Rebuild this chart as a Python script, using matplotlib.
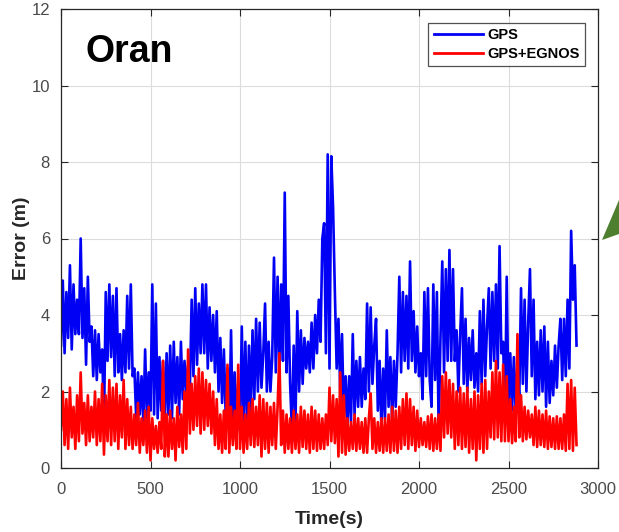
import numpy as np
import matplotlib
matplotlib.use("Agg")
import matplotlib.pyplot as plt
from matplotlib.patches import Polygon

plt.rcParams['font.family'] = ['Liberation Sans', 'DejaVu Sans']

# Time axis (s), one sample every 10 s
time_s = np.arange(0, 2890, 10)

# GPS error (m)
gps = [
    3.2, 4.9, 3.0, 4.6, 3.4, 5.3, 3.1, 4.8, 3.5, 4.4,
    3.5, 6.0, 3.4, 4.7, 2.7, 5.0, 3.3, 3.7, 2.4, 3.6,
    2.3, 3.5, 2.5, 3.1, 1.1, 4.6, 2.8, 4.8, 2.9, 4.5,
    2.4, 4.7, 2.5, 3.5, 2.3, 3.6, 2.5, 4.5, 2.6, 4.8,
    2.4, 2.6, 1.3, 2.5, 1.4, 2.4, 1.2, 3.1, 1.3, 2.5,
    1.5, 4.8, 1.4, 4.3, 1.3, 2.9, 1.5, 2.8, 1.2, 3.0,
    1.4, 3.2, 1.3, 3.3, 1.7, 2.9, 1.4, 3.3, 1.8, 2.8,
    2.0, 2.7, 2.1, 4.4, 2.4, 4.7, 2.7, 4.3, 3.0, 4.8,
    3.0, 4.8, 2.6, 4.2, 2.8, 4.0, 2.5, 4.1, 2.0, 3.4,
    1.7, 3.1, 1.4, 2.6, 1.0, 3.6, 0.9, 2.5, 1.1, 2.2,
    1.0, 3.7, 1.2, 3.3, 1.0, 3.2, 1.5, 3.6, 1.8, 3.9,
    2.0, 3.8, 2.1, 3.0, 4.3, 2.0, 3.3, 2.0, 2.9, 5.5,
    2.5, 5.0, 2.6, 4.8, 2.8, 7.2, 2.5, 4.5, 2.2, 1.0,
    3.2, 1.2, 4.1, 2.0, 3.6, 2.2, 3.4, 2.6, 3.3, 2.5,
    3.8, 2.6, 4.0, 3.0, 4.4, 3.3, 6.0, 6.4, 3.0, 8.2,
    2.6, 8.15, 6.8, 4.6, 2.6, 3.9, 2.0, 3.5, 1.3, 2.4,
    1.1, 2.4, 1.2, 3.5, 1.4, 2.8, 1.6, 2.9, 1.6, 2.6,
    1.8, 4.3, 2.0, 4.2, 2.2, 3.2, 3.9, 1.5, 2.8, 1.0,
    2.6, 1.3, 3.6, 1.6, 2.9, 1.2, 2.8, 1.6, 3.0, 5.0,
    2.5, 4.6, 2.8, 4.5, 2.6, 5.4, 2.8, 4.1, 2.5, 3.7,
    2.4, 3.0, 1.8, 4.6, 2.4, 4.7, 2.3, 1.6, 4.8, 2.3,
    4.6, 0.9, 3.4, 5.4, 2.5, 5.2, 2.8, 5.7, 2.8, 5.2,
    2.8, 3.6, 2.0, 3.5, 4.7, 2.2, 3.9, 2.0, 3.4, 2.3,
    3.6, 2.1, 3.0, 2.0, 4.1, 2.2, 4.4, 2.4, 3.7, 4.7,
    2.6, 4.6, 2.8, 4.8, 2.6, 5.8, 3.0, 3.3, 1.2, 5.0,
    1.6, 3.0, 1.5, 2.9, 1.5, 2.7, 1.8, 4.7, 2.2, 4.4,
    2.0, 3.8, 5.2, 2.4, 4.4, 1.8, 3.3, 1.9, 3.6, 2.0,
    3.7, 1.6, 3.3, 1.7, 2.8, 1.9, 3.2, 2.1, 3.2, 3.9,
    2.3, 3.9, 2.4, 4.4, 2.6, 6.2, 4.4, 5.3, 3.2,
]

# GPS+EGNOS error (m)
gps_egnos = [
    1.0, 2.0, 0.6, 1.8, 0.5, 2.1, 0.8, 1.6, 0.5, 1.9,
    0.7, 2.5, 0.9, 1.7, 0.6, 1.9, 0.7, 1.6, 0.8, 2.0,
    0.6, 1.8, 0.7, 2.2, 0.35, 1.9, 0.7, 2.3, 0.6, 2.1,
    0.7, 2.2, 0.5, 1.9, 0.8, 2.3, 0.5, 1.8, 0.6, 1.6,
    0.5, 1.4, 0.6, 1.7, 0.4, 1.3, 0.6, 1.5, 0.4, 1.6,
    0.2, 1.3, 0.5, 1.1, 0.4, 1.2, 0.5, 2.8, 0.3, 1.4,
    0.3, 1.5, 0.5, 1.3, 0.2, 1.6, 0.55, 1.4, 0.4, 2.0,
    0.5, 3.1, 0.9, 2.2, 1.0, 2.4, 1.1, 2.6, 0.9, 2.5,
    1.0, 2.3, 1.1, 2.2, 0.9, 2.0, 0.6, 1.8, 0.5, 1.4,
    0.4, 1.5, 0.5, 2.7, 0.4, 1.6, 0.6, 1.5, 0.5, 2.7,
    0.5, 1.6, 0.4, 1.4, 0.5, 1.7, 0.6, 1.8, 0.55, 1.6,
    0.6, 1.9, 0.3, 1.8, 0.5, 1.7, 0.4, 1.6, 0.6, 1.7,
    0.5, 1.6, 3.0, 0.6, 1.5, 0.4, 1.4, 0.5, 1.3, 0.4,
    1.5, 0.5, 1.4, 0.4, 1.6, 0.55, 1.5, 0.5, 1.4, 0.4,
    1.6, 0.5, 1.5, 0.45, 1.4, 0.5, 1.3, 0.5, 1.4, 0.6,
    2.1, 0.7, 1.9, 0.65, 1.8, 0.3, 2.5, 0.4, 1.9, 0.35,
    1.3, 0.45, 1.2, 0.5, 1.4, 0.45, 1.3, 0.5, 1.2, 0.4,
    1.3, 0.4, 1.3, 1.95, 0.5, 1.3, 0.4, 1.2, 0.45, 1.3,
    0.4, 1.3, 0.45, 1.4, 0.4, 1.6, 0.45, 1.5, 0.4, 1.6,
    0.5, 1.8, 0.6, 1.95, 0.5, 1.8, 0.6, 1.6, 0.45, 1.5,
    0.55, 1.3, 0.6, 1.2, 0.55, 1.35, 0.5, 1.4, 0.45, 1.3,
    0.5, 1.4, 0.45, 2.4, 0.8, 2.5, 0.9, 2.3, 0.8, 2.2,
    0.5, 2.0, 0.6, 2.1, 0.5, 1.95, 0.55, 2.1, 0.4, 1.8,
    0.5, 2.0, 0.2, 1.9, 0.5, 2.2, 0.4, 2.3, 0.5, 2.0,
    0.8, 2.5, 0.75, 2.8, 0.8, 2.5, 0.7, 2.7, 0.7, 2.4,
    0.7, 1.8, 0.65, 1.6, 0.7, 3.5, 0.8, 1.9, 0.7, 1.6,
    0.75, 1.5, 0.8, 1.4, 0.6, 1.6, 0.55, 1.5, 0.6, 1.4,
    0.55, 1.5, 0.5, 1.35, 0.55, 1.3, 0.5, 1.35, 0.5, 1.3,
    0.5, 1.4, 0.45, 2.2, 0.5, 2.3, 0.45, 2.1, 0.6,
]

series_labels = ['GPS', 'GPS+EGNOS']
x_ticks = [0, 500, 1000, 1500, 2000, 2500, 3000]
y_ticks = [0, 2, 4, 6, 8, 10, 12]
city = 'Oran'

W, H = 619, 532
fig = plt.figure(figsize=(W / 100, H / 100), dpi=100)
fig.patch.set_facecolor('white')
ax = fig.add_axes([61 / W, 1 - 468 / H, (598 - 61) / W, (468 - 9) / H])

ax.plot(time_s, gps, color='#0000f5', lw=1.9, label=series_labels[0])
ax.plot(time_s, gps_egnos, color='#ff0000', lw=1.9, label=series_labels[1])

ax.set_xlim(0, 3000)
ax.set_ylim(0, 12)
ax.set_xticks(x_ticks)
ax.set_yticks(y_ticks)
ax.grid(True, color='#dcdcdc', lw=0.8)
ax.set_axisbelow(True)
ax.tick_params(direction='in', top=True, right=True, length=5, width=0.8,
               labelsize=12, labelcolor='#4a4a4a', color='#262626')
ax.tick_params(axis='x', pad=10)
ax.tick_params(axis='y', pad=8)
for s in ax.spines.values():
    s.set_color('#262626')
    s.set_linewidth(0.9)

ax.set_xlabel('Time(s)', fontsize=14, fontweight='bold', color='#262626', labelpad=10)
ax.set_ylabel('Error (m)', fontsize=14, fontweight='bold', color='#262626', labelpad=1)

ax.text(0.045, 0.885, city, transform=ax.transAxes, fontsize=27,
        fontweight='bold', color='black', va='baseline', ha='left')

leg = ax.legend(loc='upper right', bbox_to_anchor=((585 - 61) / 537, (468 - 23) / 459),
                prop={'weight': 'bold', 'size': 10.5}, frameon=True, fancybox=False,
                edgecolor='#262626', handlelength=3.4, handletextpad=0.3,
                borderpad=0.35, labelspacing=0.35, borderaxespad=0)
leg.get_frame().set_linewidth(0.9)
for line in leg.get_lines():
    line.set_linewidth(2.0)

tri = Polygon([[602 / W, 1 - 240 / H], [619 / W, 1 - 200 / H], [619 / W, 1 - 234 / H]],
              closed=True, transform=fig.transFigure, facecolor='#4e7f2e',
              edgecolor='none')
fig.patches.append(tri)

fig.savefig('out.png', dpi=100, facecolor='white')
